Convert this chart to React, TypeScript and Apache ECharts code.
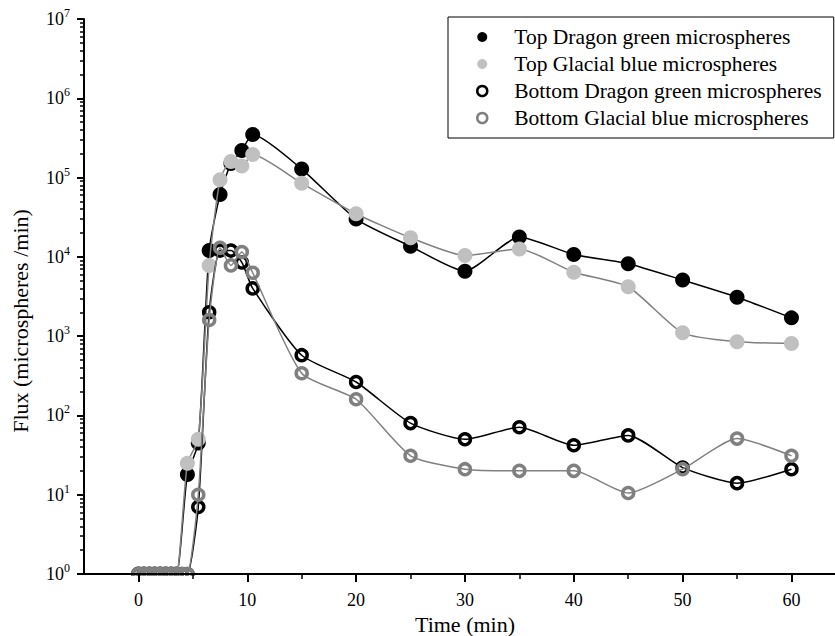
import React, { useEffect, useRef } from 'react';
import * as echarts from 'echarts';

// ---- data (time in min, flux in microspheres/min) ----
const topTimes = [0, 0.5, 1, 1.5, 2, 2.5, 3, 3.5, 4.5, 5.5, 6.5, 7.5, 8.5, 9.5, 10.5, 15, 20, 25, 30, 35, 40, 45, 50, 55, 60];
const topDragonGreen = [1, 1, 1, 1, 1, 1, 1, 1, 18, 45, 12000, 61000, 150000, 220000, 350000, 128000, 30000, 13600, 6600, 17800, 10700, 8200, 5100, 3100, 1700];
const topGlacialBlue = [1, 1, 1, 1, 1, 1, 1, 1, 25, 50, 7800, 94000, 160000, 140000, 195000, 85000, 35000, 17400, 10400, 12600, 6400, 4200, 1100, 850, 810];

const bottomTimes = [0, 0.5, 1, 1.5, 2, 2.5, 3, 3.5, 4, 4.5, 5.5, 6.5, 7.5, 8.5, 9.5, 10.5, 15, 20, 25, 30, 35, 40, 45, 50, 55, 60];
const bottomDragonGreen = [1, 1, 1, 1, 1, 1, 1, 1, 1, 1, 7, 2000, 12000, 12000, 8500, 4000, 575, 264, 80, 50, 71, 42, 56, 22, 14, 21];
const bottomGlacialBlue = [1, 1, 1, 1, 1, 1, 1, 1, 1, 1, 10, 1600, 13000, 7800, 11500, 6300, 340, 160, 31, 21, 20, 20, 10.5, 21, 51, 31];

const seriesNames = [
  'Top Dragon green microspheres',
  'Top Glacial blue microspheres',
  'Bottom Dragon green microspheres',
  'Bottom Glacial blue microspheres',
];

const xMajorTicks = [0, 10, 20, 30, 40, 50, 60];
const xMinorTicks = [5, 15, 25, 35, 45, 55];
const yDecades = [1, 10, 100, 1000, 10000, 100000, 1000000, 10000000];
const yMinorFactors = [2, 3, 4, 5, 6, 7, 8, 9];

const FONT = '"Liberation Serif", "Times New Roman", serif';

function zip(xs: number[], ys: number[]) {
  return xs.map((x, i) => [x, ys[i]]);
}

export default function App() {
  const ref = useRef<HTMLDivElement>(null);

  useEffect(() => {
    if (!ref.current) return;
    const chart = echarts.init(ref.current, undefined, { renderer: 'svg' });

    const yMinor: number[] = [];
    yDecades.slice(0, -1).forEach((d) => yMinorFactors.forEach((f) => yMinor.push(d * f)));

    const black = '#000000';
    const lightGrey = '#c0c0c0';
    const midGrey = '#808080';

    const option: any = {
      animation: false,
      backgroundColor: '#ffffff',
      grid: { left: 84, right: 0, top: 19, bottom: 62, containLabel: false },
      xAxis: [
        {
          type: 'value',
          min: -5,
          max: 64,
          position: 'bottom',
          z: 200,
          axisLine: { show: true, onZero: false, lineStyle: { color: black, width: 2 } },
          axisTick: { show: true, inside: false, length: 8, customValues: xMajorTicks, lineStyle: { color: black, width: 2 } },
          axisLabel: { show: true, customValues: xMajorTicks, margin: 17, color: black, fontSize: 18, fontFamily: FONT },
          splitLine: { show: false },
        },
        {
          type: 'value',
          min: -5,
          max: 64,
          position: 'bottom',
          gridIndex: 0,
          z: 200,
          axisLine: { show: false, onZero: false },
          axisTick: { show: true, inside: false, length: 5, customValues: xMinorTicks, lineStyle: { color: black, width: 1.5 } },
          axisLabel: { show: false },
          splitLine: { show: false },
        },
      ],
      yAxis: [
        {
          type: 'log',
          logBase: 10,
          min: 1,
          max: 10000000,
          position: 'left',
          z: 200,
          axisLine: { show: true, onZero: false, lineStyle: { color: black, width: 2 } },
          axisTick: { show: true, inside: false, length: 7, customValues: yDecades, lineStyle: { color: black, width: 2 } },
          axisLabel: {
            show: true,
            customValues: yDecades,
            margin: 14,
            formatter: (v: number) => `{b|10}{s|${Math.round(Math.log10(v))}}`,
            rich: {
              b: { fontSize: 18, fontFamily: FONT, color: black, lineHeight: 24 },
              s: { fontSize: 12, fontFamily: FONT, color: black, lineHeight: 14, verticalAlign: 'top' },
            },
          },
          splitLine: { show: false },
        },
        {
          type: 'log',
          logBase: 10,
          min: 1,
          max: 10000000,
          position: 'left',
          gridIndex: 0,
          z: 200,
          axisLine: { show: false, onZero: false },
          axisTick: { show: true, inside: false, length: 4, customValues: yMinor, lineStyle: { color: black, width: 1.5 } },
          axisLabel: { show: false },
          splitLine: { show: false },
        },
      ],
      legend: {
        orient: 'vertical',
        left: 448,
        top: 17,
        z: 210,
        padding: [9, 12, 9, 28],
        itemGap: 5,
        itemWidth: 54,
        itemHeight: 10,
        borderColor: black,
        borderWidth: 1,
        backgroundColor: '#ffffff',
        textStyle: { fontFamily: FONT, fontSize: 21.5, color: black, lineHeight: 21 },
        data: [
          { name: seriesNames[0], icon: 'circle', itemStyle: { color: black, borderWidth: 0 } },
          { name: seriesNames[1], icon: 'circle', itemStyle: { color: lightGrey, borderWidth: 0 } },
          { name: seriesNames[2], icon: 'circle', itemStyle: { color: '#ffffff', borderColor: black, borderWidth: 2.5 } },
          { name: seriesNames[3], icon: 'circle', itemStyle: { color: '#ffffff', borderColor: midGrey, borderWidth: 2.5 } },
        ],
      },
      graphic: {
        elements: [
          {
            // masks the lower half of the markers that sit on the x axis (clipped as in the original)
            type: 'rect',
            z: 100,
            shape: { x: 110, y: 576, width: 100, height: 16 },
            style: { fill: '#ffffff' },
          },
          {
            type: 'text',
            x: 465,
            y: 624,
            z: 100,
            style: {
              text: 'Time (min)',
              font: `22px ${FONT}`,
              fill: black,
              align: 'center',
              verticalAlign: 'middle',
              textAlign: 'center',
              textVerticalAlign: 'middle',
            },
          },
          {
            type: 'text',
            x: 20,
            y: 321,
            z: 100,
            rotation: Math.PI / 2,
            style: {
              text: 'Flux (microspheres /min)',
              font: `22px ${FONT}`,
              fill: black,
              align: 'center',
              verticalAlign: 'middle',
              textAlign: 'center',
              textVerticalAlign: 'middle',
            },
          },
        ],
      },
      series: [
        {
          name: seriesNames[0],
          type: 'line',
          data: zip(topTimes, topDragonGreen),
          symbol: 'circle',
          symbolSize: 15,
          smooth: 0.2,
          z: 2,
          itemStyle: { color: black },
          lineStyle: { color: black, width: 1.5 },
        },
        {
          name: seriesNames[1],
          type: 'line',
          data: zip(topTimes, topGlacialBlue),
          symbol: 'circle',
          symbolSize: 15,
          smooth: 0.2,
          z: 3,
          itemStyle: { color: lightGrey },
          lineStyle: { color: midGrey, width: 1.5 },
        },
        {
          name: seriesNames[2],
          type: 'line',
          data: zip(bottomTimes, bottomDragonGreen),
          symbol: 'circle',
          symbolSize: 11,
          smooth: 0.2,
          z: 4,
          itemStyle: { color: 'rgba(255,255,255,0)', borderColor: black, borderWidth: 3.5 },
          lineStyle: { color: black, width: 1.5 },
        },
        {
          name: seriesNames[3],
          type: 'line',
          data: zip(bottomTimes, bottomGlacialBlue),
          symbol: 'circle',
          symbolSize: 11,
          smooth: 0.2,
          z: 5,
          itemStyle: { color: 'rgba(255,255,255,0)', borderColor: midGrey, borderWidth: 3.5 },
          lineStyle: { color: midGrey, width: 1.5 },
        },
      ],
    };

    chart.setOption(option);
    return () => chart.dispose();
  }, []);

  return (
    <div
      ref={ref}
      style={{ position: 'fixed', left: 0, top: 0, width: 835, height: 636, background: '#fff' }}
    />
  );
}
